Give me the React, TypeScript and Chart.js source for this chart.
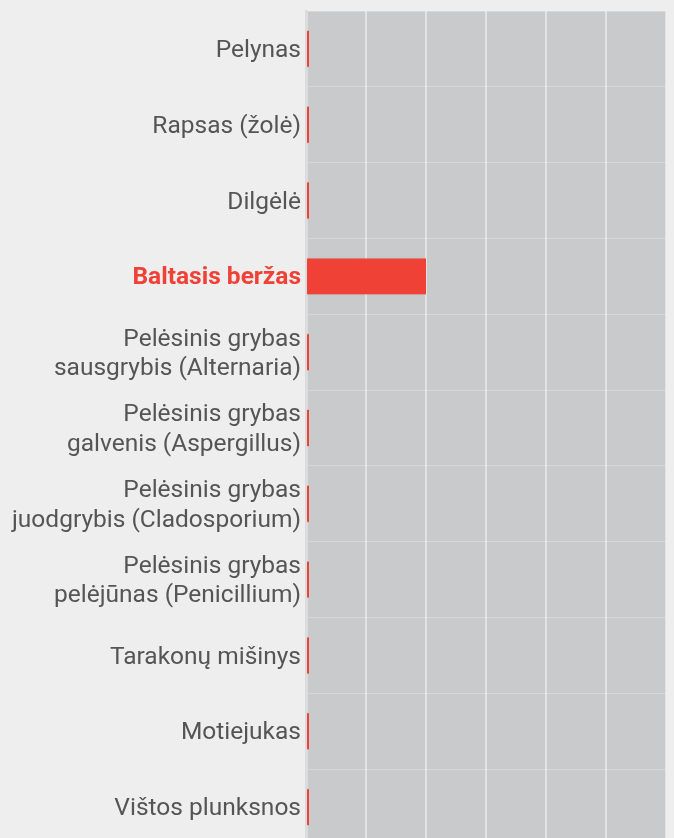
import React, { useEffect, useRef } from "react";
import { Chart, registerables } from "chart.js";

Chart.register(...registerables);

const categories: (string | string[])[] = [
  "Pelynas",
  "Rapsas (žolė)",
  "Dilgėlė",
  "Baltasis beržas",
  ["Pelėsinis grybas", "sausgrybis (Alternaria)"],
  ["Pelėsinis grybas", "galvenis (Aspergillus)"],
  ["Pelėsinis grybas", "juodgrybis (Cladosporium)"],
  ["Pelėsinis grybas", "pelėjūnas (Penicillium)"],
  "Tarakonų mišinys",
  "Motiejukas",
  "Vištos plunksnos",
];
const values: number[] = [0.05, 0.05, 0.05, 2, 0.05, 0.05, 0.05, 0.05, 0.05, 0.05, 0.05];
const highlightIndex = 3;
const xMin = 0;
const xMax = 6;

const RED = "#ef4136";

const plotBg = {
  id: "plotBg",
  beforeDraw(chart: any) {
    const { ctx, chartArea } = chart;
    if (!chartArea) return;
    ctx.save();
    ctx.fillStyle = "#c9cacc";
    ctx.fillRect(chartArea.left, chartArea.top, chartArea.right - chartArea.left, chartArea.bottom - chartArea.top);
    ctx.restore();
  },
};

export default function App() {
  const ref = useRef<HTMLCanvasElement>(null);
  useEffect(() => {
    document.body.style.background = "#eeeeee";
    const chart = new Chart(ref.current!, {
      type: "bar",
      data: {
        labels: categories,
        datasets: [
          {
            data: values,
            backgroundColor: RED,
            borderColor: "rgba(0,0,0,0.07)",
            borderWidth: { top: 1, bottom: 1, left: 0, right: 0 },
            borderSkipped: false,
            inflateAmount: 0,
            barPercentage: 0.5,
            categoryPercentage: 1,
          },
        ],
      },
      options: {
        indexAxis: "y",
        animation: false,
        responsive: false,
        maintainAspectRatio: false,
        layout: { padding: { top: 3, right: 0, bottom: 0, left: 0 } },
        plugins: { legend: { display: false }, tooltip: { enabled: false } },
        scales: {
          x: {
            min: xMin,
            max: xMax,
            ticks: { display: false, stepSize: 1 },
            grid: { color: "#e2e2e2", lineWidth: 2, drawTicks: false },
            border: { display: false },
          },
          y: {
            afterFit: (s: any) => {
              s.width = 298;
              s.paddingTop = 0;
              s.paddingBottom = 0;
            },
            ticks: {
              padding: 5,
              labelOffset: 2,
              color: (c: any) => (c.index === highlightIndex ? RED : "#555555"),
              font: (c: any) => ({
                family: "Roboto",
                size: 24.5,
                weight: c.index === highlightIndex ? "bold" : "normal",
                lineHeight: 1.2,
              }),
            },
            grid: { color: "rgba(255,255,255,0.25)", lineWidth: 1, drawTicks: false, offset: true },
            border: { display: true, color: "#dcdcdc", width: 3 },
          },
        },
      },
      plugins: [plotBg],
    });
    return () => chart.destroy();
  }, []);
  return (
    <div style={{ height: 830, overflow: "hidden" }}>
      <canvas ref={ref} width={658} height={837} style={{ display: "block" }} />
    </div>
  );
}
